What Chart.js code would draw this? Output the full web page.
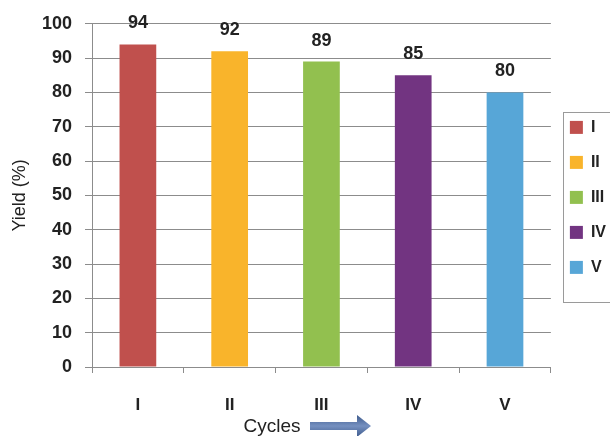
<!DOCTYPE html>
<html lang="en">
<head>
  <meta charset="UTF-8" />
  <title>Yield per cycle</title>
  <script src="https://cdn.jsdelivr.net/npm/chart.js"></script>
  <style>
    html, body { margin: 0; padding: 0; background: #fff; }
    #wrap { width: 610px; height: 436px; }
  </style>
</head>
<body>
  <div id="wrap"><canvas id="yieldChart" width="610" height="436"></canvas></div>

  <script>
    const cycles = ["I", "II", "III", "IV", "V"];
    const yields = [94, 92, 89, 85, 80];
    const yTicks = [0, 10, 20, 30, 40, 50, 60, 70, 80, 90, 100];
    const barColors = ["#c0504d", "#f9b42b", "#92c04f", "#723481", "#57a6d7"];

    const FONT = "'Liberation Sans', Arial, sans-serif";

    // value labels above bars, legend frame, axis title with arrow
    const extras = {
      id: "extras",
      afterDatasetsDraw(chart) {
        const ctx = chart.ctx;
        const meta = chart.getDatasetMeta(0);
        ctx.save();
        ctx.fillStyle = "#222";
        ctx.font = "bold 18px " + FONT;
        ctx.textAlign = "center";
        ctx.textBaseline = "bottom";
        meta.data.forEach((bar, i) => {
          ctx.fillText(String(yields[i]), bar.x, bar.y - 12);
        });
        ctx.restore();
      },
      afterDraw(chart) {
        const ctx = chart.ctx;
        const lg = chart.legend;
        ctx.save();
        ctx.strokeStyle = "#9a9a9a";
        ctx.lineWidth = 1;
        const bx = Math.round(lg.legendHitBoxes[0].left) - 7;
        ctx.strokeRect(bx + 0.5, 112.5, 80, 190);

        // x axis title + arrow
        ctx.fillStyle = "#222";
        ctx.font = "19px " + FONT;
        ctx.textAlign = "center";
        ctx.textBaseline = "middle";
        ctx.fillText("Cycles", 272, 427);

        const x0 = 310, x1 = 357, x2 = 371, cy = 426;
        const g = ctx.createLinearGradient(0, cy - 11, 0, cy + 11);
        g.addColorStop(0, "#3d5a8c");
        g.addColorStop(0.5, "#7590c0");
        g.addColorStop(1, "#3d5a8c");
        ctx.fillStyle = g;
        ctx.beginPath();
        ctx.moveTo(x0, cy - 4);
        ctx.lineTo(x1, cy - 4);
        ctx.lineTo(x1, cy - 11);
        ctx.lineTo(x2, cy);
        ctx.lineTo(x1, cy + 11);
        ctx.lineTo(x1, cy + 4);
        ctx.lineTo(x0, cy + 4);
        ctx.closePath();
        ctx.fill();
        ctx.restore();
      }
    };

    new Chart(document.getElementById("yieldChart"), {
      type: "bar",
      data: {
        labels: cycles,
        datasets: [{
          label: "Yield (%)",
          data: yields,
          backgroundColor: barColors,
          borderWidth: 0,
          barPercentage: 0.8,
          categoryPercentage: 0.5
        }]
      },
      options: {
        responsive: false,
        animation: false,
        devicePixelRatio: 1,
        layout: { padding: { top: 22, right: -6, bottom: -2, left: 0 } },
        plugins: {
          tooltip: { enabled: false },
          legend: {
            position: "right",
            align: "start",
            title: { display: true, text: " ", padding: { top: 64, bottom: 0 } },
            labels: {
              color: "#222",
              font: { family: FONT, size: 16, weight: "bold" },
              boxWidth: 13,
              boxHeight: 13,
              padding: 19,
              generateLabels: () => cycles.map((c, i) => ({
                text: c,
                fillStyle: barColors[i],
                strokeStyle: barColors[i],
                fontColor: "#222",
                lineWidth: 0,
                index: i
              }))
            }
          }
        },
        scales: {
          x: {
            grid: {
              display: true,
              drawOnChartArea: false,
              offset: true,
              tickLength: 6,
              color: "#8c8c8c"
            },
            border: { color: "#8c8c8c" },
            ticks: {
              color: "#222",
              padding: 24,
              font: { family: FONT, size: 17, weight: "bold", lineHeight: 1 }
            }
          },
          y: {
            min: 0,
            max: 100,
            afterBuildTicks: (s) => { s.ticks = yTicks.map(v => ({ value: v })); },
            afterFit: (s) => { s.width = 92; },
            grid: { color: "#8c8c8c", tickLength: 7 },
            border: { color: "#8c8c8c" },
            title: {
              display: true,
              text: "Yield (%)",
              color: "#222",
              font: { family: FONT, size: 18, lineHeight: 1.2 },
              padding: { top: 9, bottom: 0 }
            },
            ticks: {
              color: "#222",
              padding: 13,
              font: { family: FONT, size: 18, weight: "bold" }
            }
          }
        }
      },
      plugins: [extras]
    });
  </script>
</body>
</html>
